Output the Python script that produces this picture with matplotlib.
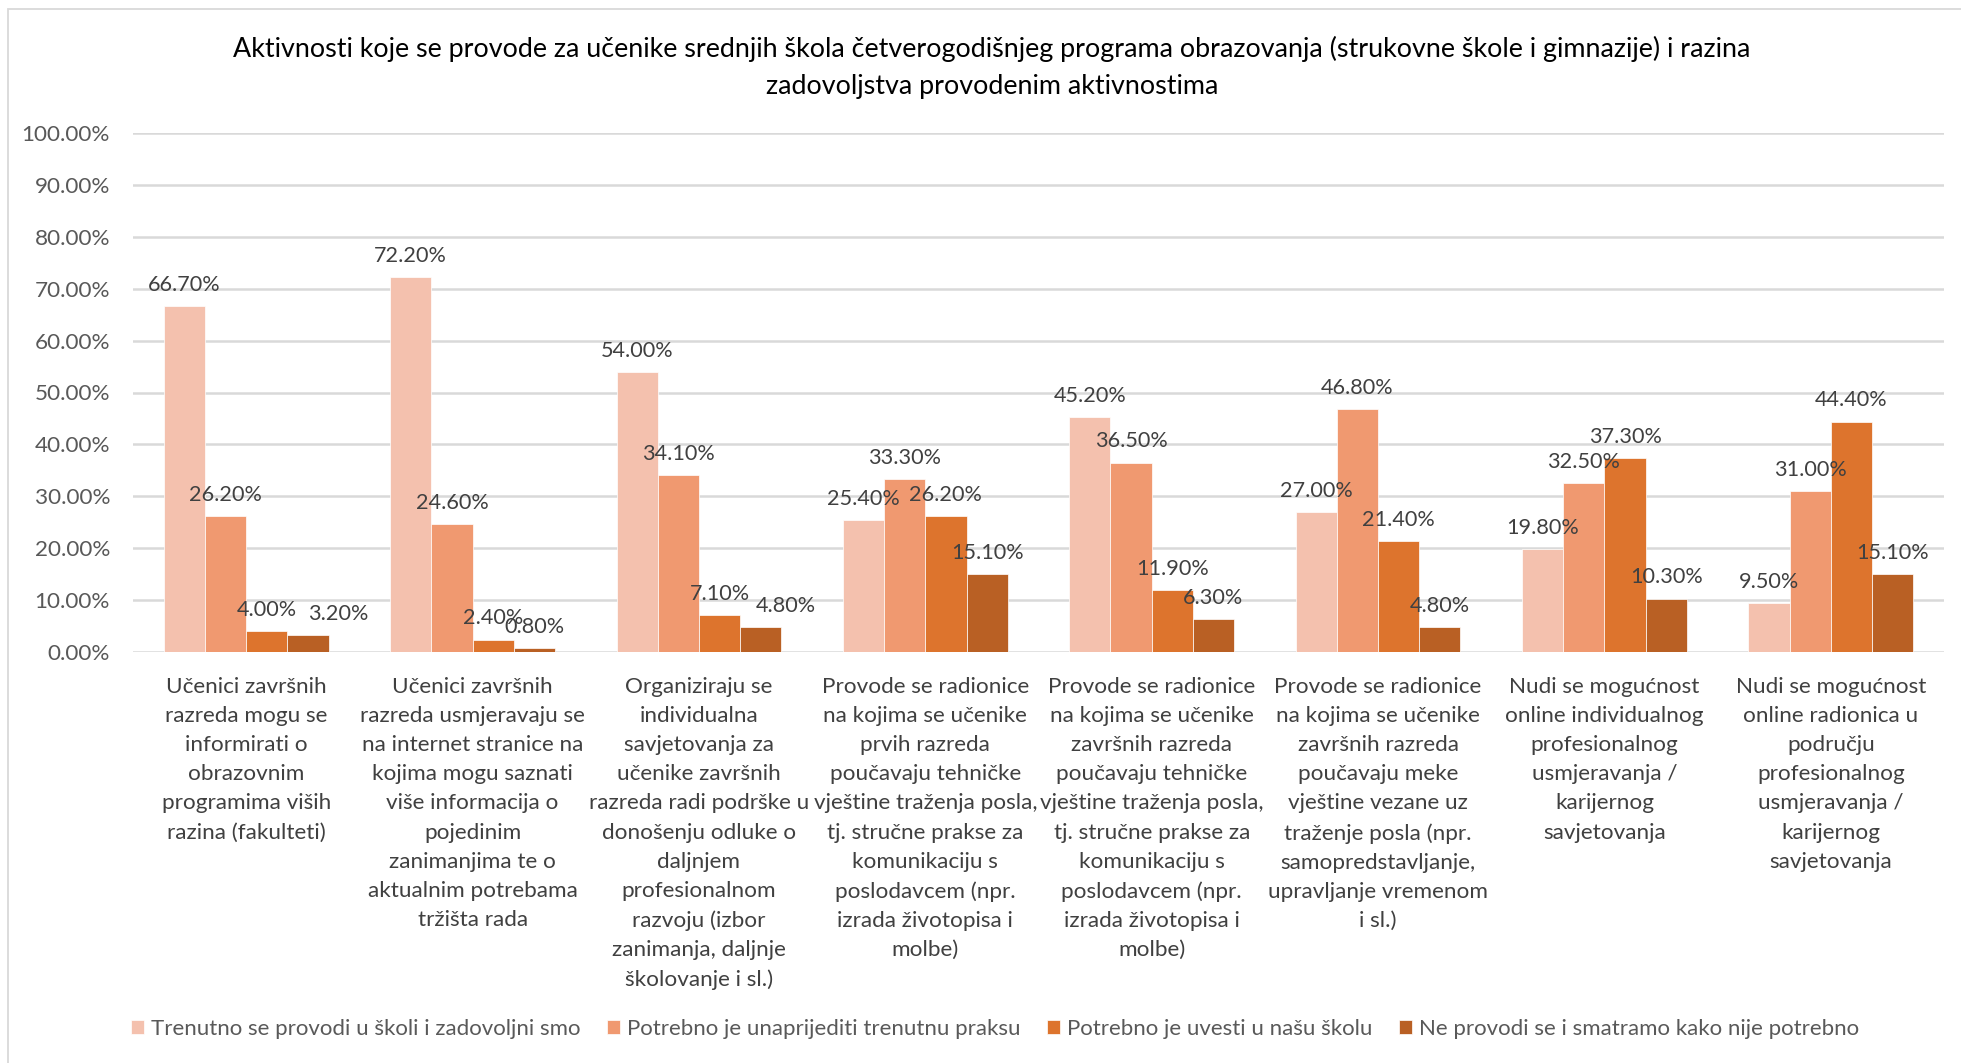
import matplotlib
matplotlib.use("Agg")
import matplotlib.pyplot as plt
import numpy as np
from matplotlib.patches import Rectangle

plt.rcParams['font.family'] = ['Lato', 'DejaVu Sans']

title = ("Aktivnosti koje se provode za učenike srednjih škola četverogodišnjeg programa obrazovanja (strukovne škole i gimnazije) i razina\n"
         "zadovoljstva provodenim aktivnostima")

categories = [
    "Učenici završnih\nrazreda mogu se\ninformirati o\nobrazovnim\nprogramima viših\nrazina (fakulteti)",
    "Učenici završnih\nrazreda usmjeravaju se\nna internet stranice na\nkojima mogu saznati\nviše informacija o\npojedinim\nzanimanjima te o\naktualnim potrebama\ntržišta rada",
    "Organiziraju se\nindividualna\nsavjetovanja za\nučenike završnih\nrazreda radi podrške u\ndonošenju odluke o\ndaljnjem\nprofesionalnom\nrazvoju (izbor\nzanimanja, daljnje\nškolovanje i sl.)",
    "Provode se radionice\nna kojima se učenike\nprvih razreda\npoučavaju tehničke\nvještine traženja posla,\ntj. stručne prakse za\nkomunikaciju s\nposlodavcem (npr.\nizrada životopisa i\nmolbe)",
    "Provode se radionice\nna kojima se učenike\nzavršnih razreda\npoučavaju tehničke\nvještine traženja posla,\ntj. stručne prakse za\nkomunikaciju s\nposlodavcem (npr.\nizrada životopisa i\nmolbe)",
    "Provode se radionice\nna kojima se učenike\nzavršnih razreda\npoučavaju meke\nvještine vezane uz\ntraženje posla (npr.\nsamopredstavljanje,\nupravljanje vremenom\ni sl.)",
    "Nudi se mogućnost\nonline individualnog\nprofesionalnog\nusmjeravanja /\nkarijernog\nsavjetovanja",
    "Nudi se mogućnost\nonline radionica u\npodručju\nprofesionalnog\nusmjeravanja /\nkarijernog\nsavjetovanja",
]

series_names = [
    "Trenutno se provodi u školi i zadovoljni smo",
    "Potrebno je unaprijediti trenutnu praksu",
    "Potrebno je uvesti u našu školu",
    "Ne provodi se i smatramo kako nije potrebno",
]

trenutno = [66.7, 72.2, 54.0, 25.4, 45.2, 27.0, 19.8, 9.5]
unaprijediti = [26.2, 24.6, 34.1, 33.3, 36.5, 46.8, 32.5, 31.0]
uvesti = [4.0, 2.4, 7.1, 26.2, 11.9, 21.4, 37.3, 44.4]
ne_provodi = [3.2, 0.8, 4.8, 15.1, 6.3, 4.8, 10.3, 15.1]
series = [trenutno, unaprijediti, uvesti, ne_provodi]

colors = ["#F4C1AE", "#F09970", "#DD742D", "#B96024"]
yticks = np.arange(0, 101, 10)

# manually nudged data labels (series index, category index) -> x shift in points
label_nudge = {(3, 0): 22, (3, 2): 18}

W, H = 1961, 1063
fig = plt.figure(figsize=(W / 100, H / 100), dpi=100)
ax = fig.add_axes([133 / W, 1 - 652 / H, (1944 - 133) / W, (652 - 133) / H])

# outer frame of chart area
fig.patches.append(Rectangle((8 / W, -0.01), 1.0, 1 - 9 / H + 0.01, transform=fig.transFigure,
                             fill=False, edgecolor="#D9D9D9", linewidth=1.3))

x = np.arange(len(categories))
bw = 0.182
for i, (vals, col, name) in enumerate(zip(series, colors, series_names)):
    pos = x + (i - 1.5) * bw
    bars = ax.bar(pos, vals, width=bw, color=col, label=name, zorder=3,
                  edgecolor="white", linewidth=0.5)
    for j, (b, v) in enumerate(zip(bars, vals)):
        dx = label_nudge.get((i, j), 0)
        ax.annotate(f"{v:.2f}%", (b.get_x() + b.get_width() / 2, v),
                    xytext=(dx, 8), textcoords="offset points",
                    ha="center", va="bottom", fontsize=15.6, color="#404040", zorder=4)

ax.set_xlim(-0.5, len(categories) - 0.5)
ax.set_ylim(0, 100)
ax.set_yticks(yticks)
ax.set_yticklabels([f"{t:.2f}%" for t in yticks], fontsize=16.2, color="#595959")
ax.yaxis.grid(True, color="#D9D9D9", linewidth=1.8, zorder=0)
ax.set_axisbelow(True)
for s in ax.spines.values():
    s.set_visible(False)
ax.tick_params(axis="both", length=0)
ax.tick_params(axis="y", pad=16.5)
ax.set_xticks(x)
ax.set_xticklabels(categories, fontsize=16.2, color="#404040", linespacing=1.57, va="top")
ax.tick_params(axis="x", pad=18)

fig.text(992 / W, 1 - 67.5 / H, title, ha="center", va="center", fontsize=19.4,
         color="#000000", linespacing=1.62)

leg = fig.legend(loc="center", bbox_to_anchor=(995 / W, 1 - 1029 / H), ncol=4,
                 frameon=False, fontsize=16, handlelength=0.6, handleheight=0.6,
                 handletextpad=0.3, columnspacing=1.2)
for t in leg.get_texts():
    t.set_color("#595959")

fig.savefig("out.png", dpi=100)
